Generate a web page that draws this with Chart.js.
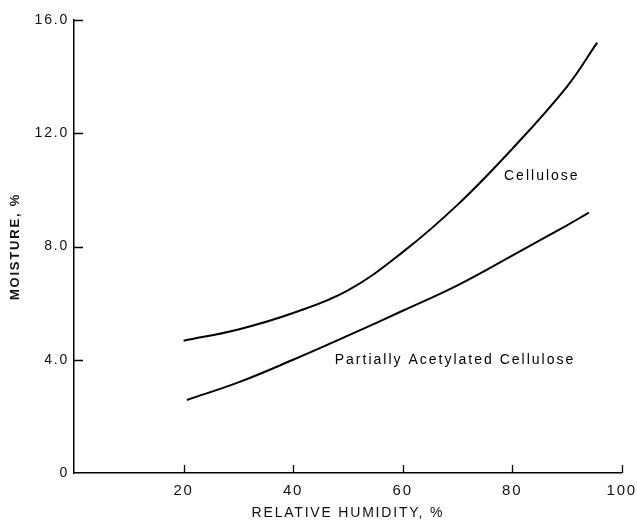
<!DOCTYPE html>
<html>
<head>
<meta charset="utf-8">
<script src="https://cdn.jsdelivr.net/npm/chart.js@4/dist/chart.umd.min.js"></script>
<style>
html,body{margin:0;padding:0;background:#fff;}
#wrap{width:637px;height:522px;}
</style>
</head>
<body>
<div id="wrap"><canvas id="c" width="637" height="522"></canvas></div>
<script>
const humidity = [20, 30, 40, 50, 60, 70, 80, 90, 95.5];
const cellulose = [4.67, 5.07, 5.65, 6.45, 7.8, 9.47, 11.45, 13.65, 15.2];
const humidityPAC = [20.6, 30, 40, 50, 60, 70, 80, 90, 94];
const partialAcetylated = [2.58, 3.2, 4.0, 4.85, 5.73, 6.63, 7.68, 8.75, 9.2];
const xTicks = [20, 40, 60, 80, 100];
const yTicks = [0, 4, 8, 12, 16];
const curveLabels = [
  {text: 'Cellulose', x: 78.5, y: 10.5},
  {text: 'Partially Acetylated Cellulose', x: 47.6, y: 4.0}
];

const toPts = (xs, ys) => xs.map((x, i) => ({x: x, y: ys[i]}));

const spacing = {
  id: 'spacing',
  beforeUpdate(chart) { chart.ctx.letterSpacing = '1.8px'; },
  beforeLayout(chart) { chart.ctx.letterSpacing = '1.8px'; },
  beforeDraw(chart) { chart.ctx.letterSpacing = '1.8px'; }
};

const decor = {
  id: 'decor',
  afterDraw(chart) {
    const ctx = chart.ctx;
    const xs = chart.scales.x, ys = chart.scales.y;
    ctx.save();
    ctx.strokeStyle = '#000';
    ctx.lineWidth = 1.3;
    ctx.beginPath();
    xTicks.forEach(v => {
      const px = Math.round(xs.getPixelForValue(v)) + 0.5;
      const py = ys.getPixelForValue(0);
      ctx.moveTo(px, py);
      ctx.lineTo(px, py - 8);
    });
    yTicks.forEach(v => {
      if (v === 0) return;
      const py = Math.round(ys.getPixelForValue(v)) + 0.5;
      const px = xs.getPixelForValue(0);
      ctx.moveTo(px, py);
      ctx.lineTo(px + 9, py);
    });
    ctx.stroke();
    ctx.fillStyle = '#000';
    ctx.font = '14px "Liberation Sans", Arial, sans-serif';
    ctx.letterSpacing = '2px';
    ctx.textBaseline = 'middle';
    ctx.textAlign = 'left';
    curveLabels.forEach(l => {
      ctx.fillText(l.text, xs.getPixelForValue(l.x), ys.getPixelForValue(l.y));
    });
    ctx.restore();
  }
};

new Chart(document.getElementById('c'), {
  type: 'scatter',
  data: {
    datasets: [
      {data: toPts(humidity, cellulose), showLine: true, borderColor: '#000', borderWidth: 2, pointRadius: 0, tension: 0.4, fill: false},
      {data: toPts(humidityPAC, partialAcetylated), showLine: true, borderColor: '#000', borderWidth: 2, pointRadius: 0, tension: 0.4, fill: false}
    ]
  },
  options: {
    responsive: false,
    animation: false,
    layout: {padding: {left: 0, right: 14, top: 20, bottom: 0}},
    plugins: {legend: {display: false}, tooltip: {enabled: false}},
    scales: {
      x: {
        type: 'linear', min: 0, max: 100,
        afterFit(s) { s.height = 49; },
        afterBuildTicks(s) { s.ticks = xTicks.map(v => ({value: v})); },
        grid: {display: true, drawOnChartArea: false, drawTicks: true, tickLength: 9, tickColor: 'rgba(0,0,0,0)'},
        border: {display: true, color: '#000', width: 1.5},
        ticks: {padding: 0, color: '#111', font: {family: '"Liberation Sans", Arial, sans-serif', size: 15}, maxRotation: 0, callback: v => String(v)},
        title: {display: true, text: 'RELATIVE HUMIDITY, %', color: '#111', padding: {top: 4, bottom: 0}, font: {family: '"Liberation Sans", Arial, sans-serif', size: 14}}
      },
      y: {
        type: 'linear', min: 0, max: 16,
        afterFit(s) { s.width = 74; },
        afterBuildTicks(s) { s.ticks = yTicks.map(v => ({value: v})); },
        grid: {display: false, drawTicks: false},
        border: {display: true, color: '#000', width: 1.5},
        ticks: {padding: 5, color: '#111', font: {family: '"Liberation Sans", Arial, sans-serif', size: 14}, callback: v => v === 0 ? '0' : Number(v).toFixed(1)},
        title: {display: true, text: 'MOISTURE, %', color: '#111', padding: {top: 8, bottom: 0}, font: {family: '"Liberation Sans", Arial, sans-serif', size: 13, weight: 'bold'}}
      }
    }
  },
  plugins: [spacing, decor]
});
</script>
</body>
</html>
